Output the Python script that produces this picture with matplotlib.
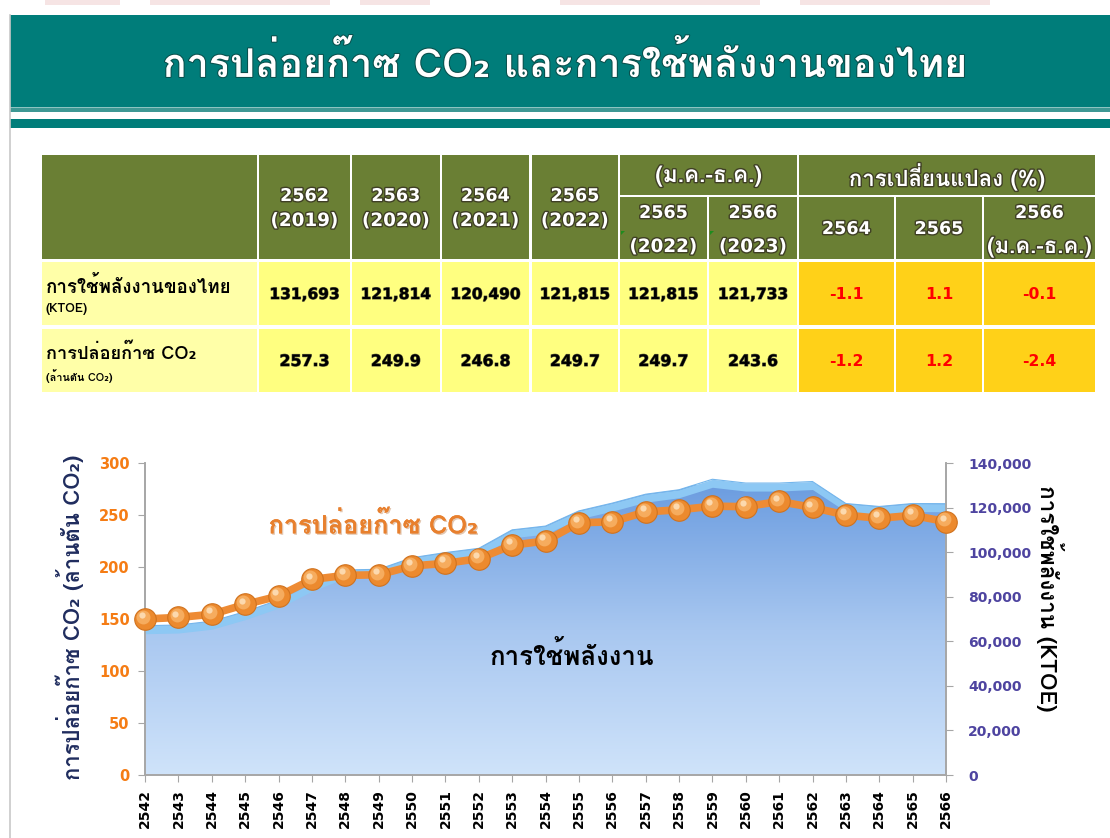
import matplotlib
matplotlib.use("Agg")
import matplotlib.pyplot as plt
import numpy as np
from matplotlib import font_manager as fm
from matplotlib.patches import Rectangle, Polygon
from matplotlib.colors import LinearSegmentedColormap
import matplotlib.patheffects as pe
import matplotlib.transforms as mtransforms

# ---------------- fonts ----------------
names = {f.name for f in fm.fontManager.ttflist}
THAI = next((n for n in ["Loma", "Tahoma", "Noto Sans Thai", "Sarabun"] if n in names), None)
FAM = ([THAI] if THAI else []) + ["DejaVu Sans"]
NUM = ["DejaVu Sans"]
plt.rcParams["font.family"] = FAM

# ---------------- data ----------------
years = [2542, 2543, 2544, 2545, 2546, 2547, 2548, 2549, 2550, 2551, 2552, 2553,
         2554, 2555, 2556, 2557, 2558, 2559, 2560, 2561, 2562, 2563, 2564, 2565, 2566]
co2 = [150, 151.5, 154.5, 164, 172, 188, 192, 192.5, 201, 203.5, 208, 221,
       225, 242.5, 243.5, 253, 255, 258.5, 258, 263, 257.3, 249.9, 246.8, 249.7, 243.6]
energy = [67000, 67300, 69000, 73300, 78500, 86000, 92000, 92300, 97500, 99800, 101700, 110000,
          111700, 118500, 122000, 126000, 128000, 132700, 131000, 131000, 131693, 121814, 120490, 121815, 121733]
co2_ticks = [0, 50, 100, 150, 200, 250, 300]
energy_ticks = [0, 20000, 40000, 60000, 80000, 100000, 120000, 140000]

title = "การปล่อยก๊าซ CO₂ และการใช้พลังงานของไทย"
col_heads = [("2562", "(2019)"), ("2563", "(2020)"), ("2564", "(2021)"), ("2565", "(2022)")]
group1 = "(ม.ค.-ธ.ค.)"
group1_sub = [("2565", "(2022)"), ("2566", "(2023)")]
group2 = "การเปลี่ยนแปลง (%)"
group2_sub = [("2564", ""), ("2565", ""), ("2566", "(ม.ค.-ธ.ค.)")]
row_labels = [("การใช้พลังงานของไทย", "(KTOE)"), ("การปล่อยก๊าซ CO₂", "(ล้านตัน CO₂)")]
energy_vals = ["131,693", "121,814", "120,490", "121,815", "121,815", "121,733"]
energy_chg = ["-1.1", "1.1", "-0.1"]
co2_vals = ["257.3", "249.9", "246.8", "249.7", "249.7", "243.6"]
co2_chg = ["-1.2", "1.2", "-2.4"]
ylabel_left = "การปล่อยก๊าซ CO₂ (ล้านตัน CO₂)"
ylabel_right = "การใช้พลังงาน (KTOE)"
label_co2 = "การปล่อยก๊าซ CO₂"
label_energy = "การใช้พลังงาน"

W, H = 1110, 838
fig = plt.figure(figsize=(W / 100, H / 100), dpi=100)
fig.patch.set_facecolor("white")
RENDER = fig.canvas.get_renderer()


def fit(t, target, vertical=False):
    bb = t.get_window_extent(RENDER)
    cur = bb.height if vertical else bb.width
    if cur > 0:
        t.set_fontsize(t.get_fontsize() * target / cur)
    return t


# ---------------- background / table axes in pixel coords ----------------
bg = fig.add_axes([0, 0, 1, 1])
bg.set_xlim(0, W)
bg.set_ylim(H, 0)
bg.axis("off")
bg.set_zorder(0)


def rect(x0, y0, x1, y1, color, z=1):
    bg.add_patch(Rectangle((x0, y0), x1 - x0, y1 - y0, facecolor=color, edgecolor="none", zorder=z))


# faint remnants at the very top
for (a, b) in [(45, 120), (150, 330), (360, 430), (560, 760), (800, 990)]:
    rect(a, 0, b, 5, "#F6E4E4")

# header band
rect(10, 15, W, 107, "#007D7A")
rect(10, 107, W, 108.5, "#8CC4C1")
rect(10, 108.5, W, 112, "#3E9894")
rect(10, 119, W, 128, "#007D7A")
bg.plot([10, 10], [15, H], color="#C8C8C8", lw=1.2, zorder=2)
tt = bg.text(565, 64, title, color="white", fontsize=26, fontweight="bold", ha="center", va="center",
             zorder=5, path_effects=[pe.withStroke(linewidth=1.5, foreground="#0A4F4C")])
fit(tt, 804)

# table geometry
GREEN = "#6A7F34"
LBL = "#FFFFA8"
VAL = "#FFFF80"
ORG = "#FFD118"
cols = [(42, 257), (259, 350), (352, 440), (442, 529), (532, 618), (620, 707), (709, 797),
        (799, 894), (896, 982), (984, 1095)]
hy0, hmid, hy1 = 155, 195, 259
rows = [(262, 325), (329, 392)]

head_fx = [pe.withStroke(linewidth=2.0, foreground="#3F3F25")]
val_fx = [pe.withStroke(linewidth=0.8, foreground="#666640")]


def htext(x, y, s, target=None, fs=12.5, fam=NUM):
    t = bg.text(x, y, s, color="white", fontsize=fs, fontweight="bold", ha="center", va="center",
                zorder=5, path_effects=head_fx, family=fam)
    if target:
        fit(t, target)
    return t


# header cells
rect(cols[0][0], hy0, cols[0][1], hy1, GREEN)
for i, (a, b) in enumerate(col_heads):
    x0, x1 = cols[i + 1]
    rect(x0, hy0, x1, hy1, GREEN)
    htext((x0 + x1) / 2, 196, a, 49)
    htext((x0 + x1) / 2, 221, b, 68)
# group 1
rect(cols[5][0], hy0, cols[6][1], hmid, GREEN)
htext((cols[5][0] + cols[6][1]) / 2, 176, group1, 106, fam=FAM)
for k, (a, b) in enumerate(group1_sub):
    x0, x1 = cols[5 + k]
    rect(x0, hmid + 2, x1, hy1, GREEN)
    htext((x0 + x1) / 2, 213, a, 49)
    htext((x0 + x1) / 2, 247, b, 68)
    bg.add_patch(Polygon([(x0 + 1, 231), (x0 + 5, 231), (x0 + 1, 235)], closed=True,
                         facecolor="#1E8C1E", edgecolor="none", zorder=6))
# group 2
rect(cols[7][0], hy0, cols[9][1], hmid, GREEN)
htext((cols[7][0] + cols[9][1]) / 2, 176, group2, 197, fam=FAM)
for k, (a, b) in enumerate(group2_sub):
    x0, x1 = cols[7 + k]
    rect(x0, hmid + 2, x1, hy1, GREEN)
    if b:
        htext((x0 + x1) / 2, 213, a, 49)
        htext((x0 + x1) / 2, 247, b, 104, fam=FAM)
    else:
        htext((x0 + x1) / 2, 229, a, 49)

# body rows
for r, ((ry0, ry1), (l1, l2), vals, chg) in enumerate(
        zip(rows, row_labels, [energy_vals, co2_vals], [energy_chg, co2_chg])):
    rect(cols[0][0], ry0, cols[0][1], ry1, LBL)
    t1 = bg.text(46, ry0 + 24, l1, color="black", fontsize=11, fontweight="bold", ha="left",
                 va="center", zorder=5)
    fit(t1, 186 if r == 0 else 150)
    t2 = bg.text(46, ry0 + 47, l2, color="black", fontsize=7, fontweight="bold", ha="left",
                 va="center", zorder=5)
    fit(t2, 42 if r == 0 else 67)
    cy = (ry0 + ry1) / 2 + 1
    for i, v in enumerate(vals):
        x0, x1 = cols[i + 1]
        rect(x0, ry0, x1, ry1, VAL)
        t = bg.text((x0 + x1) / 2, cy, v, color="black", fontsize=11, fontweight="bold", ha="center",
                    va="center", zorder=5, path_effects=val_fx, family=NUM)
        fit(t, 70 if len(v) > 5 else 50)
    for i, v in enumerate(chg):
        x0, x1 = cols[i + 7]
        rect(x0, ry0, x1, ry1, ORG)
        t = bg.text((x0 + x1) / 2, cy, v, color="#FF0000", fontsize=11, fontweight="bold", ha="center",
                    va="center", zorder=5, family=NUM)
        fit(t, 34 if v.startswith("-") else 28)

# ---------------- chart ----------------
L, R, B, T = 145, 946, 775, 463
ax1 = fig.add_axes([L / W, (H - B) / H, (R - L) / W, (B - T) / H])
ax2 = ax1.twinx()
ax1.set_zorder(3)
ax2.set_zorder(2)
ax1.patch.set_visible(False)
ax2.patch.set_visible(False)

x0, x1 = years[0], years[-1]
cmap = LinearSegmentedColormap.from_list("g", ["#CFE3FA", "#A8C7F0", "#6C9DE0"])
grad = np.linspace(0, 1, 256).reshape(-1, 1)
im = ax2.imshow(grad, extent=[x0, x1, 0, 130000], origin="lower", aspect="auto", cmap=cmap, zorder=1)
verts = list(zip(years, energy)) + [(x1, 0), (x0, 0)]
clip = Polygon(verts, closed=True, transform=ax2.transData, facecolor="none", edgecolor="none")
ax2.add_patch(clip)
im.set_clip_path(clip)
band = [e - 3600 for e in energy]
ax2.fill_between(years, band, energy, color="#8DC8F4", lw=0, zorder=2)
ax2.plot(years, energy, color="#74B6EC", lw=0.8, zorder=3)
ax2.set_xlim(x0, x1)
ax2.set_ylim(0, 140000)

ax1.plot(years, co2, color="#EE8B34", lw=5.5, zorder=4, solid_capstyle="round")
ax1.plot(years, co2, ls="none", marker="o", ms=15.5, mfc="#EC8A2E", mec="#D0721E", mew=0.8, zorder=5,
         clip_on=False)
off1 = mtransforms.offset_copy(ax1.transData, fig=fig, x=-1.3, y=1.6, units="points")
ax1.plot(years, co2, ls="none", marker="o", ms=10, mfc="#F6AC5E", mec="none", zorder=6, transform=off1,
         clip_on=False)
off2 = mtransforms.offset_copy(ax1.transData, fig=fig, x=-2.2, y=2.8, units="points")
ax1.plot(years, co2, ls="none", marker="o", ms=4.5, mfc="#FCD9AE", mec="none", zorder=7, transform=off2,
         clip_on=False)
ax1.set_xlim(x0, x1)
ax1.set_ylim(0, 300)

for ax in (ax1, ax2):
    ax.spines["top"].set_visible(False)
    for s in ("left", "right", "bottom"):
        ax.spines[s].set_color("#A6A6A6")
        ax.spines[s].set_linewidth(1.2)
ax1.set_yticks(co2_ticks)
ax1.set_yticklabels([str(v) for v in co2_ticks], color="#F57C14", fontsize=10.5, fontweight="bold",
                    family=NUM)
ax1.tick_params(axis="y", direction="out", length=5, color="#A6A6A6", pad=6)
ax2.set_yticks(energy_ticks)
ax2.set_yticklabels([f"{v:,}" for v in energy_ticks], color="#4E44A0", fontsize=10, fontweight="bold",
                    family=NUM)
ax2.tick_params(axis="y", direction="out", length=5, color="#A6A6A6", pad=11)
ax1.set_xticks(years)
ax1.set_xticklabels([str(y) for y in years], rotation=90, fontsize=10, fontweight="bold",
                    color="black", family=NUM)
ax1.tick_params(axis="x", direction="out", length=5, color="#A6A6A6", pad=5)
ax2.tick_params(axis="x", length=0)

t = ax1.text(2545.7, 240, label_co2, color="#E8802E", fontsize=15, fontweight="bold",
             ha="left", va="center", zorder=8,
             path_effects=[pe.withSimplePatchShadow(offset=(1, -1), shadow_rgbFace="#B06020", alpha=0.35),
                           pe.Normal()])
fit(t, 210)
t = ax1.text(2554.8, 115, label_energy, color="black", fontsize=14, fontweight="bold",
             ha="center", va="center", zorder=8)
fit(t, 165)

t = fig.text(70 / W, (H - 617) / H, ylabel_left, rotation=90, color="#1F2C5E",
             fontsize=13, fontweight="bold", ha="center", va="center")
fit(t, 325, vertical=True)
t = fig.text(1050 / W, (H - 598) / H, ylabel_right, rotation=270, color="black",
             fontsize=12.5, fontweight="bold", ha="center", va="center")
fit(t, 227, vertical=True)

fig.savefig("out.png", dpi=100)
